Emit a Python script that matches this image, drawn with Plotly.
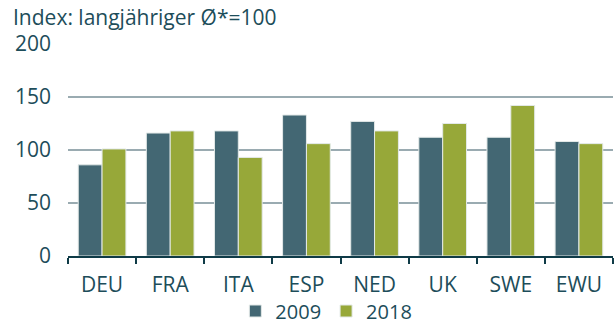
import plotly.graph_objects as go

# Countries and index values (long-term average = 100)
countries = ["DEU", "FRA", "ITA", "ESP", "NED", "UK", "SWE", "EWU"]
values_2009 = [86, 116, 118, 133, 127, 112, 112, 108]
values_2018 = [101, 118, 93, 106, 118, 125, 142, 106]
y_ticks = [0, 50, 100, 150, 200]

color_2009 = "#436773"
color_2018 = "#97a839"
text_color = "#1d4d5a"
grid_color = "#9aabb1"
axis_color = "#0f3b47"
font_family = "Open Sans, Noto Sans, sans-serif"
font_size = 21

# plot area geometry in pixels
m_left, m_right, m_top, m_bottom = 68, 2, 44, 68
plot_h = 324 - m_top - m_bottom

fig = go.Figure()
fig.add_trace(go.Bar(
    x=countries, y=values_2009, name="2009",
    marker=dict(color=color_2009, line=dict(color="#e3e9e8", width=1)),
))
fig.add_trace(go.Bar(
    x=countries, y=values_2018, name="2018",
    marker=dict(color=color_2018, line=dict(color="#e3e9e8", width=1)),
))

fig.update_layout(
    width=615, height=324,
    margin=dict(l=m_left, r=m_right, t=m_top, b=m_bottom, autoexpand=False),
    paper_bgcolor="white", plot_bgcolor="white",
    font=dict(family=font_family, size=font_size, color=text_color),
    barmode="group", bargap=0.3, bargroupgap=0,
    title=dict(
        text="Index: langjähriger Ø*=100",
        xref="container", x=13 / 615, xanchor="left",
        yref="container", y=1 - 18 / 324, yanchor="middle",
        font=dict(family=font_family, size=font_size, color=text_color),
    ),
    showlegend=True,
    legend=dict(
        orientation="h", xref="paper", x=0.474, xanchor="center",
        yref="paper", y=-(311 - (m_top + plot_h)) / plot_h, yanchor="middle",
        font=dict(size=20, color=text_color), traceorder="normal",
        tracegroupgap=0,
    ),
    xaxis=dict(
        type="category", range=[-0.5, 7.5], automargin=False,
        showline=True, linecolor=axis_color, linewidth=2,
        ticks="outside", tickson="boundaries", ticklen=6, tickwidth=2,
        tickcolor=axis_color, showgrid=False, zeroline=False,
        ticklabelstandoff=9,
    ),
    yaxis=dict(
        range=[0, 200], tickvals=y_ticks, ticks="", automargin=False,
        showgrid=True, gridcolor=grid_color, gridwidth=2,
        zeroline=False, showline=False, ticklabelstandoff=16,
    ),
)

fig.write_html("out.html")
